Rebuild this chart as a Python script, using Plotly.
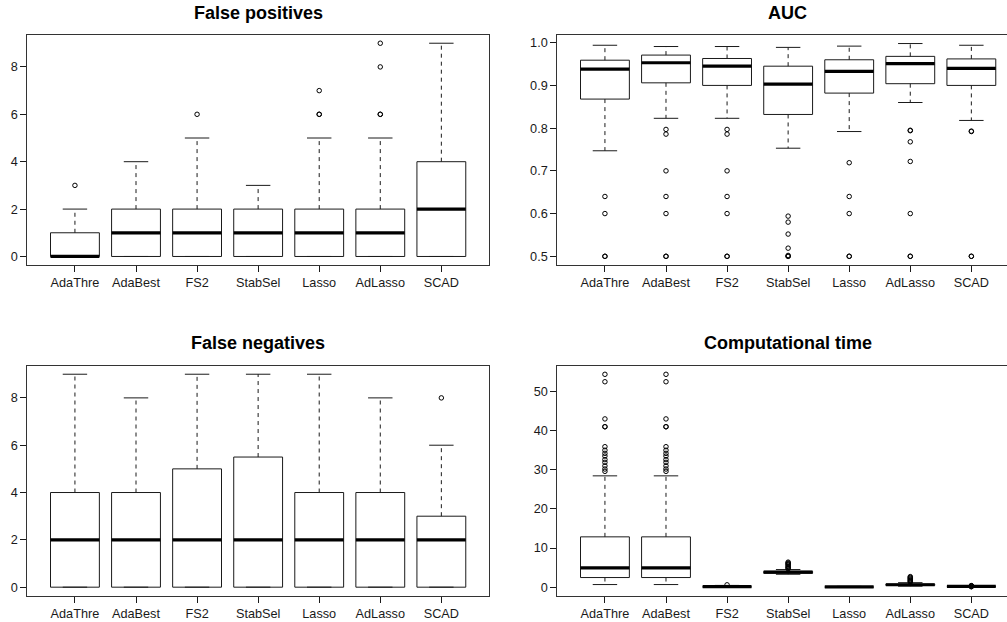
import plotly.graph_objects as go

methods = ["AdaThre", "AdaBest", "FS2", "StabSel", "Lasso", "AdLasso", "SCAD"]

# False positives: whisker ends, quartiles, median, outliers
fp_lo = [0, 0, 0, 0, 0, 0, 0]
fp_q1 = [0, 0, 0, 0, 0, 0, 0]
fp_med = [0, 1, 1, 1, 1, 1, 2]
fp_q3 = [1, 2, 2, 2, 2, 2, 4]
fp_hi = [2, 4, 5, 3, 5, 5, 9]
fp_out = [[3], [], [6], [], [6, 6, 7], [6, 6, 8, 9], []]

# AUC
auc_lo = [0.747, 0.823, 0.823, 0.753, 0.792, 0.860, 0.818]
auc_q1 = [0.868, 0.906, 0.900, 0.832, 0.882, 0.904, 0.900]
auc_med = [0.938, 0.953, 0.945, 0.903, 0.933, 0.951, 0.940]
auc_q3 = [0.959, 0.971, 0.963, 0.945, 0.960, 0.968, 0.962]
auc_hi = [0.994, 0.991, 0.991, 0.989, 0.992, 0.998, 0.994]
auc_out = [
    [0.640, 0.600, 0.500, 0.500],
    [0.797, 0.786, 0.700, 0.640, 0.600, 0.500, 0.500],
    [0.797, 0.786, 0.700, 0.640, 0.600, 0.500, 0.500],
    [0.594, 0.580, 0.552, 0.519, 0.502, 0.500, 0.500],
    [0.719, 0.640, 0.600, 0.500, 0.500],
    [0.795, 0.794, 0.768, 0.722, 0.600, 0.500, 0.500],
    [0.793, 0.792, 0.500, 0.500],
]

# False negatives
fn_lo = [0, 0, 0, 0, 0, 0, 0]
fn_q1 = [0, 0, 0, 0, 0, 0, 0]
fn_med = [2, 2, 2, 2, 2, 2, 2]
fn_q3 = [4, 4, 5, 5.5, 4, 4, 3]
fn_hi = [9, 8, 9, 9, 9, 8, 6]
fn_out = [[], [], [], [], [], [], [8]]

# Computational time
tm_lo = [0.67, 0.67, 0.03, 3.30, 0.01, 0.25, 0.17]
tm_q1 = [2.46, 2.46, 0.08, 3.55, 0.03, 0.45, 0.20]
tm_med = [4.93, 4.93, 0.15, 3.83, 0.07, 0.62, 0.22]
tm_q3 = [12.86, 12.86, 0.25, 4.05, 0.12, 0.80, 0.25]
tm_hi = [28.45, 28.45, 0.45, 4.50, 0.20, 1.15, 0.28]
tm_out = [
    [54.4, 52.5, 43.0, 41.0, 41.0, 35.9, 35.0, 34.2, 33.5, 32.6, 31.9, 31.0, 30.2, 29.6],
    [54.4, 52.5, 43.0, 41.0, 41.0, 35.9, 35.0, 34.2, 33.5, 32.6, 31.9, 31.0, 30.2, 29.6],
    [0.6],
    [4.7, 4.9, 5.1, 5.3, 5.6, 5.8, 6.0, 6.2, 6.4],
    [],
    [1.3, 1.5, 1.7, 1.9, 2.1, 2.3, 2.5, 2.7],
    [0.12, 0.14, 0.31, 0.35, 0.40],
]

titles = ["False positives", "AUC", "False negatives", "Computational time"]

W, H = 1007, 622
FONT = "Liberation Sans, Arial, Helvetica, sans-serif"
INK = "#1a1a1a"
BOXW = 0.8     # box width in category units
STAPLE = 0.4   # whisker cap width

fig = go.Figure()


def add_panel(ax, lo, q1, med, q3, hi, out):
    xa = "x" if ax == 1 else f"x{ax}"
    ya = "y" if ax == 1 else f"y{ax}"
    xs = list(range(1, len(methods) + 1))

    wx, wy, sx, sy, bx, by, mx, my, ox, oy = ([] for _ in range(10))
    for i, x in enumerate(xs):
        if hi[i] > q3[i]:
            wx += [x, x, None]
            wy += [q3[i], hi[i], None]
        if lo[i] < q1[i]:
            wx += [x, x, None]
            wy += [q1[i], lo[i], None]
        for v in (lo[i], hi[i]):
            sx += [x - STAPLE / 2, x + STAPLE / 2, None]
            sy += [v, v, None]
        l, r = x - BOXW / 2, x + BOXW / 2
        bx += [l, r, r, l, l, None]
        by += [q1[i], q1[i], q3[i], q3[i], q1[i], None]
        mx += [l, r, None]
        my += [med[i], med[i], None]
        for v in out[i]:
            ox.append(x)
            oy.append(v)

    common = dict(xaxis=xa, yaxis=ya, showlegend=False, hoverinfo="skip")
    fig.add_trace(go.Scatter(x=wx, y=wy, mode="lines",
                             line=dict(color=INK, width=1, dash="4px,4px"), **common))
    fig.add_trace(go.Scatter(x=sx, y=sy, mode="lines",
                             line=dict(color=INK, width=1), **common))
    fig.add_trace(go.Scatter(x=bx, y=by, mode="lines",
                             line=dict(color=INK, width=1), **common))
    fig.add_trace(go.Scatter(x=mx, y=my, mode="lines",
                             line=dict(color="black", width=3.2), **common))
    fig.add_trace(go.Scatter(x=ox, y=oy, mode="markers",
                             marker=dict(symbol="circle-open", size=4.5,
                                         color="black", line=dict(width=1)),
                             **common))


add_panel(1, fp_lo, fp_q1, fp_med, fp_q3, fp_hi, fp_out)
add_panel(2, auc_lo, auc_q1, auc_med, auc_q3, auc_hi, auc_out)
add_panel(3, fn_lo, fn_q1, fn_med, fn_q3, fn_hi, fn_out)
add_panel(4, tm_lo, tm_q1, tm_med, tm_q3, tm_hi, tm_out)

# plot regions in pixels: (left, right, top, bottom)
left_px = (27.3, 489.0)
right_px = (557.3, 1007.0)
top_px = (34.7, 265.0)
bot_px = (365.7, 595.7)
unit_px = 61.07  # pixels per category step

tick_font = dict(family=FONT, size=12.7, color=INK)


def xaxis(px, anchor):
    lo = 0.22
    hi = lo + (px[1] - px[0]) / unit_px
    return dict(domain=[px[0] / W, px[1] / W], range=[lo, hi], anchor=anchor,
                tickmode="array", tickvals=list(range(1, 8)), ticktext=methods,
                ticks="outside", ticklen=6, tickcolor=INK, tickwidth=1,
                showline=True, linecolor="#333", linewidth=1, mirror=True,
                showgrid=False, zeroline=False, tickfont=tick_font,
                fixedrange=True)


def yaxis(py, anchor, rng, dtick, fmt, mirror):
    return dict(domain=[1 - py[1] / H, 1 - py[0] / H], range=rng, anchor=anchor,
                tickmode="linear", tick0=0, dtick=dtick, tickformat=fmt,
                ticks="outside", ticklen=6, tickcolor=INK, tickwidth=1,
                showline=True, linecolor="#333", linewidth=1, mirror=mirror,
                showgrid=False, zeroline=False, tickfont=tick_font,
                fixedrange=True)


fig.update_layout(
    width=W, height=H,
    margin=dict(l=0, r=0, t=0, b=0),
    paper_bgcolor="white", plot_bgcolor="white",
    font=dict(family=FONT, color=INK),
    xaxis=xaxis(left_px, "y"),
    yaxis=yaxis(top_px, "x", [-0.36, 9.36], 2, "d", True),
    xaxis2=xaxis(right_px, "y2"),
    yaxis2=yaxis(top_px, "x2", [0.4796, 1.0187], 0.1, ".1f", False),
    xaxis3=xaxis(left_px, "y3"),
    yaxis3=yaxis(bot_px, "x3", [-0.36, 9.36], 2, "d", True),
    xaxis4=xaxis(right_px, "y4"),
    yaxis4=yaxis(bot_px, "x4", [-2.18, 56.6], 10, "d", False),
)

# panel titles centred over each full plotting region
title_pos = [(258.2, 13.3), (787.7, 13.3), (258.2, 343.3), (787.7, 343.3)]
for t, (cx, cy) in zip(titles, title_pos):
    fig.add_annotation(text=f"<b>{t}</b>", x=cx / W, y=1 - cy / H,
                       xref="paper", yref="paper", showarrow=False,
                       xanchor="center", yanchor="middle",
                       font=dict(family=FONT, size=18, color="black"))

fig.write_html("out.html")
